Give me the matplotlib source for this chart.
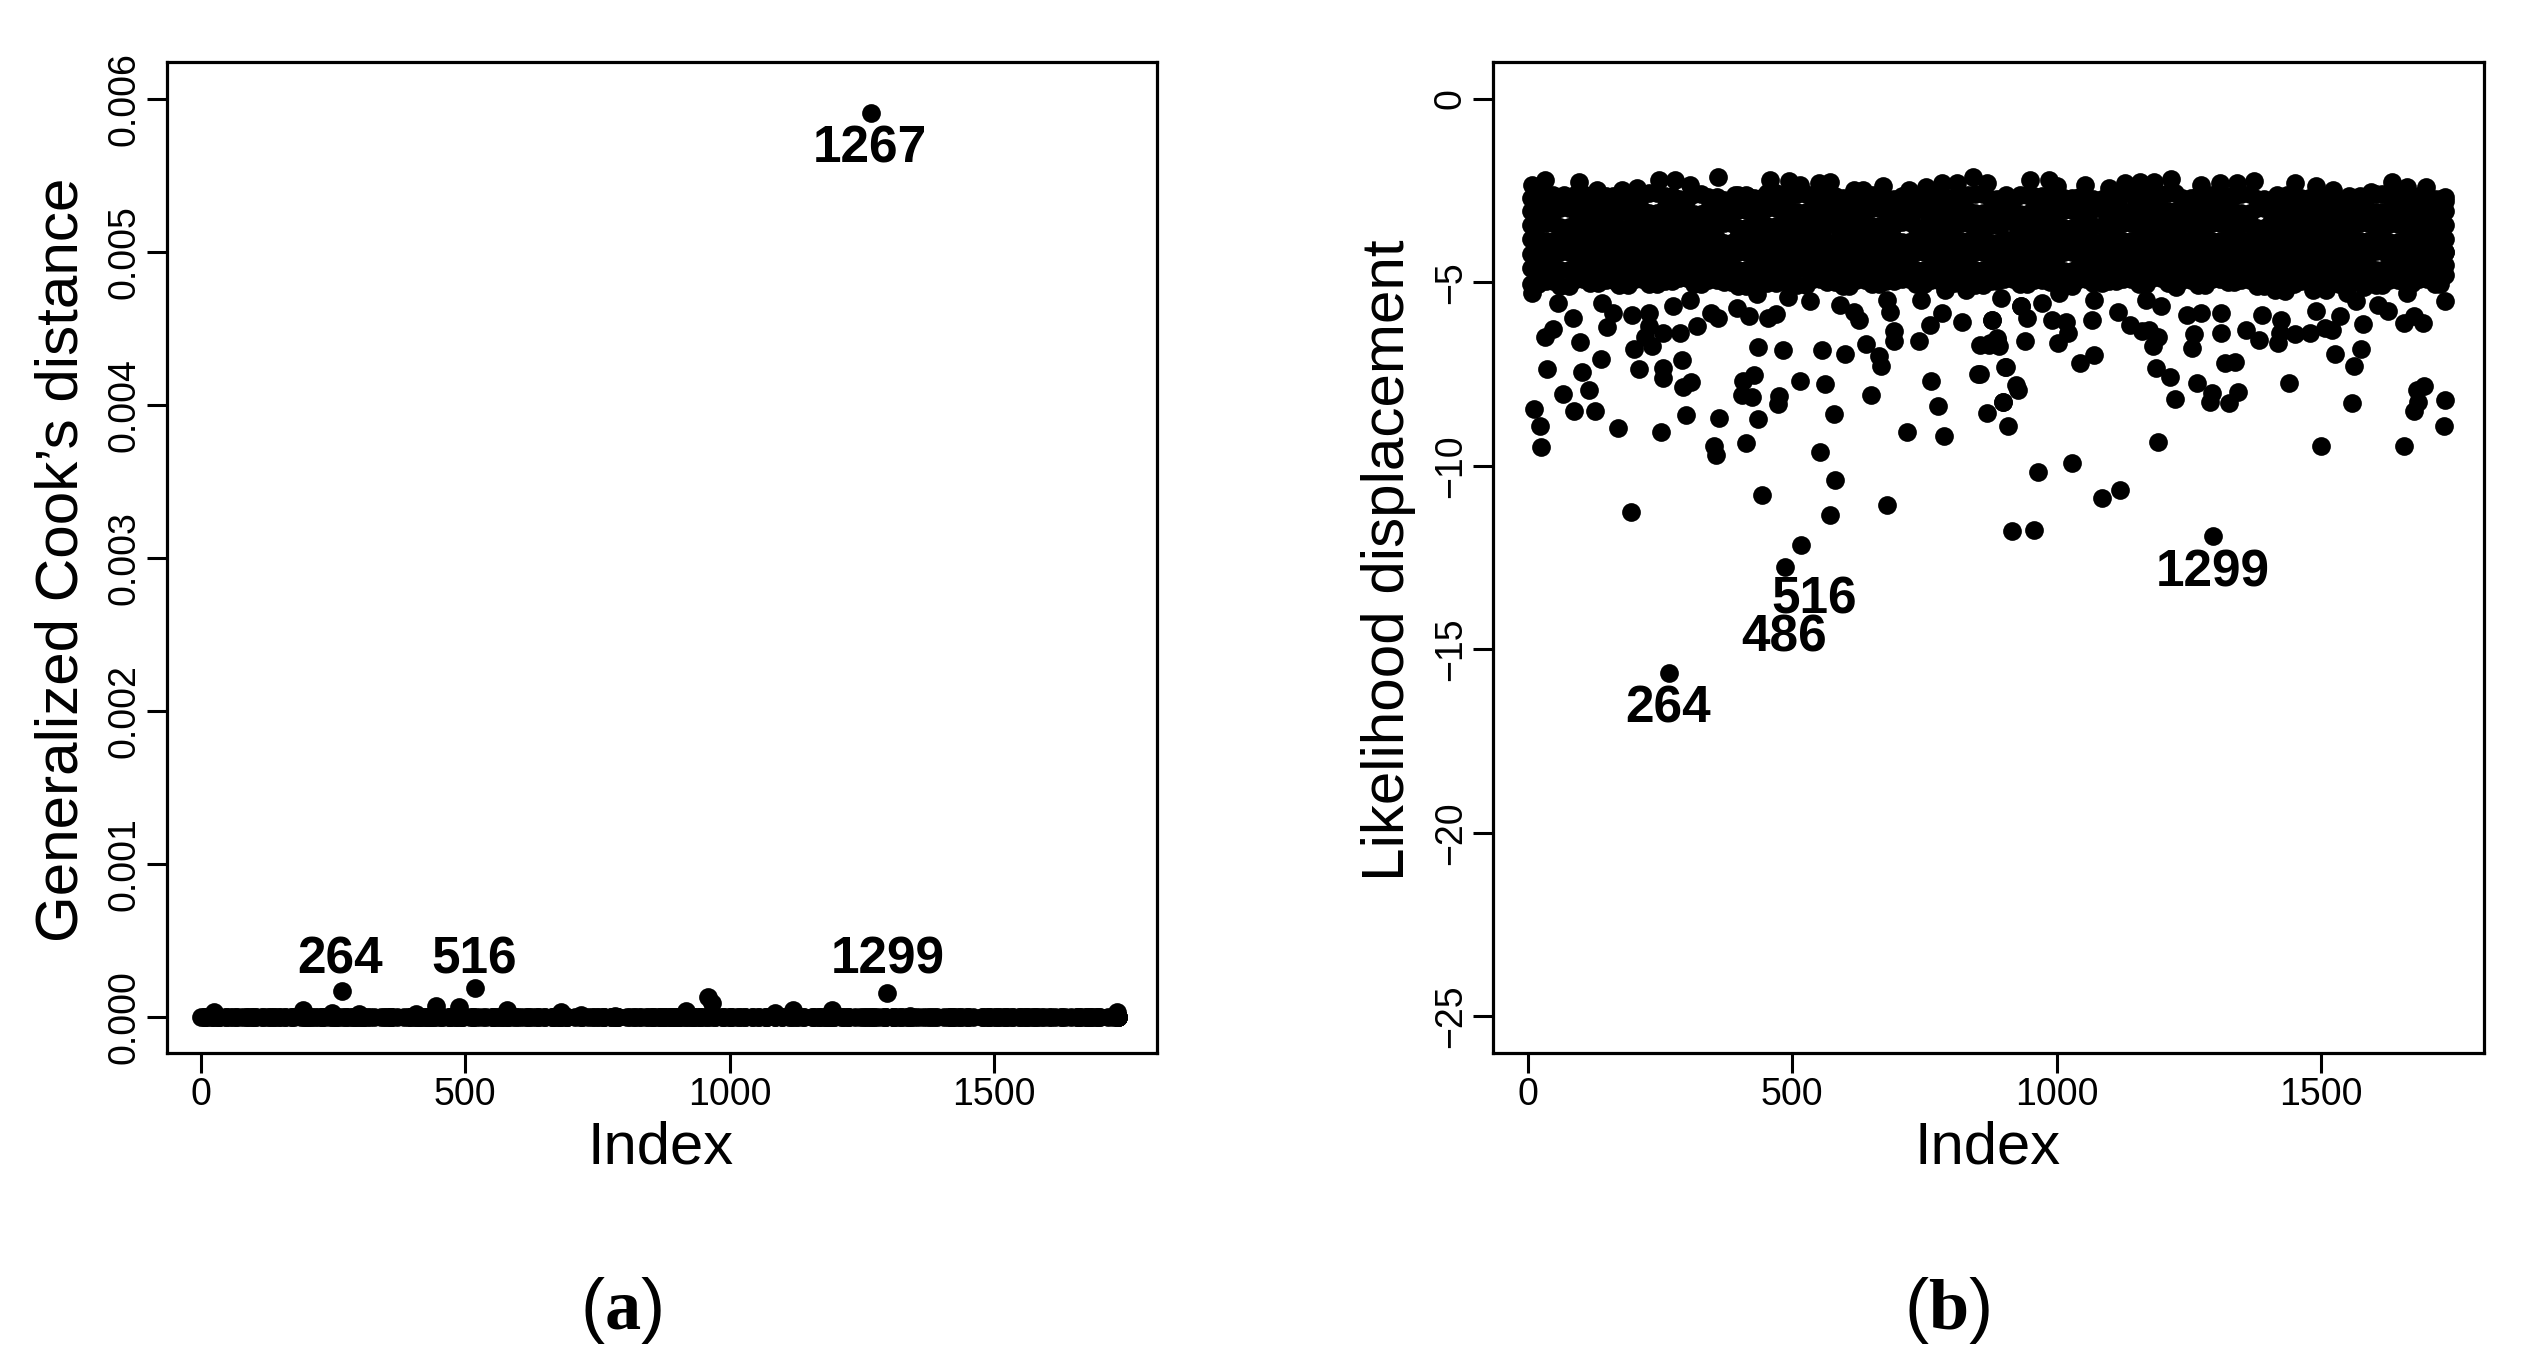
import matplotlib
matplotlib.use("Agg")
import matplotlib.pyplot as plt

plt.rcParams['font.family'] = ['Liberation Sans', 'DejaVu Sans']
plt.rcParams['mathtext.fontset'] = 'custom'
plt.rcParams['mathtext.rm'] = 'Liberation Serif'
plt.rcParams['mathtext.bf'] = 'Liberation Serif:bold'

# ---------- panel (b): likelihood displacement ----------
top_index = [7,33,69,96,130,177,206,248,278,307,359,392,415,458,493,515,551,571,617,633,672,721,753,783,812,842,868,904,
             949,985,1001,1054,1099,1129,1158,1184,1217,1272,1308,1341,1373,1416,1451,1490,1523,1552,1595,1634,1663,1699,1735]
top_ld = [-2.34,-2.22,-2.62,-2.27,-2.48,-2.48,-2.43,-2.21,-2.21,-2.34,-2.14,-2.62,-2.66,-2.21,-2.25,-2.34,-2.31,-2.28,-2.48,-2.48,-2.39,-2.48,-2.41,-2.30,-2.29,-2.14,-2.30,-2.62,
          -2.22,-2.22,-2.39,-2.36,-2.43,-2.30,-2.28,-2.28,-2.19,-2.34,-2.30,-2.30,-2.25,-2.62,-2.30,-2.39,-2.48,-2.66,-2.53,-2.27,-2.41,-2.41,-2.69]

band_index_a = [6,35,61,91,117,147,173,203,229,
                259,285,315,341,371,397,427,453,483,
                509,539,565,595,621,651,677,707,733,
                763,789,819,845,875,901,931,957,987,
                1013,1043,1069,1099,1125,1155,1181,1211,1237,
                1267,1293,1323,1349,1379,1405,1435,1461,1491,
                1517,1547,1573,1603,1629,1659,1685,1715,1735]
band_index_b = [20,48,77,104,133,160,189,216,245,
                272,301,328,357,384,413,440,469,496,
                525,552,581,608,637,664,693,720,749,
                776,805,832,861,888,917,944,973,1000,
                1029,1056,1085,1112,1141,1168,1197,1224,1253,
                1280,1309,1336,1365,1392,1421,1448,1477,1504,
                1533,1560,1589,1616,1645,1672,1701,1725,1733]

row_1 = [-2.70,-2.62,-2.75,-2.60,-2.71,-2.66,-2.74,-2.61,-2.58,
         -2.66,-2.72,-2.59,-2.69,-2.75,-2.62,-2.70,-2.58,-2.66,
         -2.60,-2.73,-2.64,-2.71,-2.68,-2.61,-2.74,-2.65,-2.70,
         -2.59,-2.67,-2.63,-2.60,-2.72,-2.75,-2.62,-2.66,-2.60,
         -2.71,-2.67,-2.73,-2.64,-2.60,-2.69,-2.62,-2.58,-2.70,
         -2.64,-2.61,-2.66,-2.60,-2.72,-2.75,-2.63,-2.70,-2.68,
         -2.74,-2.75,-2.66,-2.60,-2.62,-2.67,-2.65,-2.72,-2.80]
row_2 = [-3.05,-3.10,-2.98,-3.06,-3.12,-3.00,-3.08,-3.03,-3.11,
         -2.99,-3.07,-3.13,-3.02,-3.09,-3.04,-3.12,-2.98,-3.06,
         -3.10,-3.01,-3.08,-3.13,-3.03,-2.99,-3.07,-3.11,-3.04,
         -3.00,-3.09,-3.05,-3.12,-3.02,-3.08,-3.13,-2.99,-3.06,
         -3.04,-3.11,-3.01,-3.09,-3.06,-3.13,-3.00,-3.07,-3.03,
         -3.10,-3.02,-3.08,-3.12,-2.99,-3.05,-3.10,-3.03,-3.07,
         -3.11,-3.01,-3.06,-3.09,-3.04,-3.12,-3.00,-3.07,-3.05]
row_3 = [-3.45,-3.40,-3.50,-3.38,-3.46,-3.42,-3.52,-3.39,-3.47,
         -3.43,-3.37,-3.49,-3.44,-3.40,-3.51,-3.36,-3.46,-3.41,
         -3.48,-3.38,-3.45,-3.52,-3.40,-3.47,-3.43,-3.37,-3.50,
         -3.42,-3.46,-3.39,-3.51,-3.44,-3.37,-3.48,-3.41,-3.45,
         -3.52,-3.38,-3.47,-3.43,-3.40,-3.49,-3.36,-3.46,-3.42,
         -3.50,-3.39,-3.45,-3.41,-3.52,-3.37,-3.47,-3.43,-3.40,
         -3.49,-3.44,-3.38,-3.51,-3.42,-3.46,-3.39,-3.48,-3.43]
row_4 = [-3.82,-3.88,-3.78,-3.85,-3.91,-3.80,-3.87,-3.76,-3.84,
         -3.90,-3.79,-3.86,-3.81,-3.92,-3.77,-3.83,-3.89,-3.80,
         -3.85,-3.78,-3.91,-3.84,-3.76,-3.87,-3.82,-3.90,-3.79,
         -3.86,-3.81,-3.88,-3.77,-3.92,-3.83,-3.80,-3.85,-3.89,
         -3.78,-3.84,-3.91,-3.76,-3.87,-3.82,-3.79,-3.90,-3.85,
         -3.81,-3.88,-3.77,-3.84,-3.92,-3.80,-3.86,-3.78,-3.83,
         -3.89,-3.81,-3.87,-3.76,-3.91,-3.84,-3.79,-3.86,-3.82]
row_5 = [-4.22,-4.28,-4.18,-4.25,-4.31,-4.20,-4.27,-4.16,-4.24,
         -4.30,-4.19,-4.26,-4.21,-4.32,-4.17,-4.23,-4.29,-4.20,
         -4.25,-4.18,-4.31,-4.24,-4.16,-4.27,-4.22,-4.30,-4.19,
         -4.26,-4.21,-4.28,-4.17,-4.32,-4.23,-4.20,-4.25,-4.29,
         -4.18,-4.24,-4.31,-4.16,-4.27,-4.22,-4.19,-4.30,-4.25,
         -4.21,-4.28,-4.17,-4.24,-4.32,-4.20,-4.26,-4.18,-4.23,
         -4.29,-4.21,-4.27,-4.16,-4.31,-4.24,-4.19,-4.26,-4.18]
row_6 = [-4.62,-4.58,-4.66,-4.55,-4.63,-4.59,-4.68,-4.56,-4.64,
         -4.60,-4.54,-4.66,-4.61,-4.57,-4.68,-4.53,-4.63,-4.58,
         -4.65,-4.55,-4.62,-4.69,-4.57,-4.64,-4.60,-4.54,-4.67,
         -4.59,-4.63,-4.56,-4.68,-4.61,-4.54,-4.65,-4.58,-4.62,
         -4.69,-4.55,-4.64,-4.60,-4.57,-4.66,-4.53,-4.63,-4.59,
         -4.67,-4.56,-4.62,-4.58,-4.69,-4.54,-4.64,-4.60,-4.57,
         -4.66,-4.61,-4.55,-4.68,-4.59,-4.63,-4.56,-4.65,-4.52]
row_7 = [-5.05,-4.98,-5.10,-4.92,-5.02,-4.95,-5.08,-4.90,-5.04,
         -4.96,-4.88,-5.06,-4.94,-5.00,-5.10,-4.90,-5.02,-4.96,
         -5.08,-4.92,-5.00,-5.10,-4.94,-5.04,-4.98,-4.90,-5.06,
         -4.95,-5.02,-4.92,-5.08,-4.98,-4.90,-5.05,-4.94,-5.00,
         -5.10,-4.92,-5.03,-4.96,-4.90,-5.06,-4.88,-5.02,-4.95,
         -5.08,-4.91,-5.00,-4.94,-5.10,-4.90,-5.04,-4.97,-4.92,
         -5.06,-4.98,-4.90,-5.08,-4.95,-5.02,-4.92,-5.05,-4.80]

low_index = [7,56,85,141,160,229,229,274,307,346,679,744,789,828,894,933,1005,1070,1168,1226,1412,1432,1484,1510,1549,1582,1663,1732,1735,
             33,47,98,139,36,103,115,66,12,87,126,23,170,251,201,221,235,211,255,255,291,294,308,255,287,320,149,196,359,395,418,454,470,
             435,483,557,599,640,664,667,851,903,763,406,428,405,424,474,472,514,562,649,776,579,436,362,299,868,899,716,786,685,692,692,
             740,820,760,783,591,626,617,871,887,890,877,434,491,534,
             940,1002,1021,992,1018,1067,1044,1071,904,923,927,898,907,855,1187,1215,1266,1223,1293,1290,1326,1343,1318,1337,1440,1559,
             1526,1575,1562,1695,1682,1683,1675,1735,1733,1259,1256,1311,1183,1191,1174,1138,1161,1116,1389,1425,1419,1422,1451,1479,1520,
             1536,1507,1579,1608,1627,1657,1693,1675,1735,1491,1566,1246,1272,1311,1357,1383,1197,943,972,933,878,874,887,855,
             24,351,355,413,552,1192,1500,1657,581,1028,964,1119,1085,443,679,195,571,517,916,957,1296,487,266]
low_ld = [-5.30,-5.57,-5.98,-5.57,-5.84,-6.20,-5.84,-5.66,-5.48,-5.84,-5.48,-5.48,-5.20,-5.20,-5.43,-5.66,-5.30,-5.48,-5.48,-5.12,-5.20,-5.25,-5.20,-5.20,-5.30,-5.12,-5.30,-4.80,-4.18,
          -6.48,-6.28,-6.64,-7.08,-7.37,-7.45,-7.93,-8.04,-8.45,-8.52,-8.52,-8.93,-8.97,-9.07,-6.81,-6.49,-6.75,-7.37,-7.34,-7.61,-7.13,-7.86,-7.73,-6.39,-6.37,-6.20,-6.22,-5.89,-5.98,-5.70,-5.93,-5.98,-5.86,
          -6.76,-6.86,-6.84,-6.95,-6.68,-7.02,-7.27,-7.49,-7.31,-7.70,-7.70,-7.54,-8.07,-8.14,-8.11,-8.31,-7.70,-7.76,-8.08,-8.38,-8.59,-8.73,-8.69,-8.63,-8.55,-8.25,-9.07,-9.20,-5.82,-6.34,-6.61,
          -6.61,-6.09,-6.16,-5.84,-5.61,-6.02,-5.80,-6.70,-6.52,-6.75,-6.02,-5.31,-5.39,-5.50,
          -6.61,-6.66,-6.39,-6.02,-6.09,-6.02,-7.20,-6.99,-7.32,-7.79,-7.93,-8.25,-8.93,-7.50,-7.34,-7.59,-7.75,-8.18,-8.02,-8.25,-8.29,-7.99,-7.20,-7.18,-7.75,-8.29,
          -6.95,-6.82,-7.27,-7.82,-7.95,-8.25,-8.50,-8.22,-8.91,-6.40,-6.78,-6.39,-6.75,-6.50,-6.29,-6.16,-6.34,-5.82,-5.90,-6.02,-6.66,-6.39,-6.40,-6.39,-6.29,
          -5.93,-6.25,-6.14,-5.61,-5.78,-6.11,-6.11,-5.93,-5.52,-5.78,-5.52,-5.89,-5.84,-5.84,-6.29,-6.57,-5.66,-5.98,-5.57,-5.66,-6.02,-6.66,-6.57,-6.70,
          -9.50,-9.45,-9.70,-9.38,-9.63,-9.34,-9.45,-9.46,-10.38,-9.93,-10.18,-10.67,-10.89,-10.81,-11.06,-11.25,-11.35,-12.15,-11.79,-11.74,-11.91,-12.75,-15.65]

ld_labels = ["264", "486", "516", "1299"]
ld_label_x = [265, 485, 541, 1296]
ld_label_y = [-16.64, -14.7, -13.66, -12.93]

# ---------- panel (a): generalized Cook's distance ----------
cook_index = [1267,518,266,1298,959,967,445,488,193,579,248,24,1194,1120,1085,918,681,1732,299,407,1340,718,784,
              1,1735]
cook_value = [0.00591,0.000192,0.000168,0.000159,0.000133,0.00009,0.000074,0.000068,0.000046,0.000046,0.000024,0.00003,
              0.000046,0.000046,0.000024,0.00004,0.00003,0.00003,0.00002,0.00002,0.00001,0.000015,0.00001,
              0.0,0.0]
cook_near_zero = 0.0
cook_labels = ["1267", "264", "516", "1299"]
cook_label_x = [1265, 264, 516, 1298]
cook_label_y = [0.00567, 0.00037, 0.00037, 0.00037]

x_ticks = [0, 500, 1000, 1500]
cook_ticks = [0.000, 0.001, 0.002, 0.003, 0.004, 0.005, 0.006]
cook_tick_labels = ["0.000", "0.001", "0.002", "0.003", "0.004", "0.005", "0.006"]
ld_ticks = [0, -5, -10, -15, -20, -25]
ld_tick_labels = ["0", "\u22125", "\u221210", "\u221215", "\u221220", "\u221225"]

W, H = 2544, 1371
fig = plt.figure(figsize=(W / 100, H / 100), dpi=100, facecolor="white")


def add_axes(l, r, t, b):
    return fig.add_axes([l / W, 1 - b / H, (r - l) / W, (b - t) / H])


ax_a = add_axes(167, 1157, 62, 1053)
ax_b = add_axes(1493, 2484, 62, 1053)
MS = 182

# panel b: the dense band is overplotted so that it reads as solid, as in the reference
for xs, ys in [(top_index, top_ld), (low_index, low_ld),
               (band_index_a, row_1), (band_index_b, row_2), (band_index_a, row_3),
               (band_index_b, row_4), (band_index_a, row_5), (band_index_b, row_6),
               (band_index_a, row_7),
               (band_index_b, row_1), (band_index_a, row_2), (band_index_b, row_3),
               (band_index_a, row_4), (band_index_b, row_5), (band_index_a, row_6),
               (band_index_b, row_7)]:
    ax_b.scatter(xs, ys, s=MS, c="black", linewidths=0, zorder=3)

# panel a: every observation index shares the same near-zero baseline
all_index = top_index + low_index + band_index_a + band_index_b
ax_a.scatter(all_index, [cook_near_zero] * len(all_index), s=MS, c="black", linewidths=0, zorder=3)
ax_a.scatter(cook_index, cook_value, s=MS, c="black", linewidths=0, zorder=3)

for ax in (ax_a, ax_b):
    ax.set_xticks(x_ticks)
    ax.set_xticklabels([str(v) for v in x_ticks])
    for s in ax.spines.values():
        s.set_linewidth(2.3)
    ax.tick_params(axis="both", length=14.5, width=2.2, labelsize=27)
    ax.tick_params(axis="x", pad=3)
    ax.tick_params(axis="y", pad=3)

ax_a.set_xlim(-64, 1808)
ax_b.set_xlim(-66, 1808)
ax_a.set_ylim(-0.000235, 0.00624)
ax_a.set_yticks(cook_ticks)
ax_a.set_yticklabels(cook_tick_labels, rotation=90, va="center")
ax_b.set_ylim(-26, 1)
ax_b.set_yticks(ld_ticks)
ax_b.set_yticklabels(ld_tick_labels, rotation=90, va="center")

for t, x, y in zip(cook_labels, cook_label_x, cook_label_y):
    ax_a.text(x, y, t, ha="center", va="center", fontsize=37, fontweight="bold", zorder=4)
for t, x, y in zip(ld_labels, ld_label_x, ld_label_y):
    ax_b.text(x, y, t, ha="center", va="center", fontsize=37, fontweight="bold", zorder=4)


def ftext(px, py, s, **kw):
    fig.text(px / W, 1 - py / H, s, ha="center", va="center", **kw)


ftext(661, 1148, "Index", fontsize=43)
ftext(1988, 1148, "Index", fontsize=43)
ftext(62, 560, "Generalized Cook\u2019s distance", fontsize=43.4, rotation=90)
ftext(1389, 560, "Likelihood displacement", fontsize=43.4, rotation=90)
ftext(621, 1310, r"($\mathbf{a}$)", fontsize=52)
ftext(1947, 1310, r"($\mathbf{b}$)", fontsize=52)

fig.savefig("out.png", dpi=100, facecolor="white")
